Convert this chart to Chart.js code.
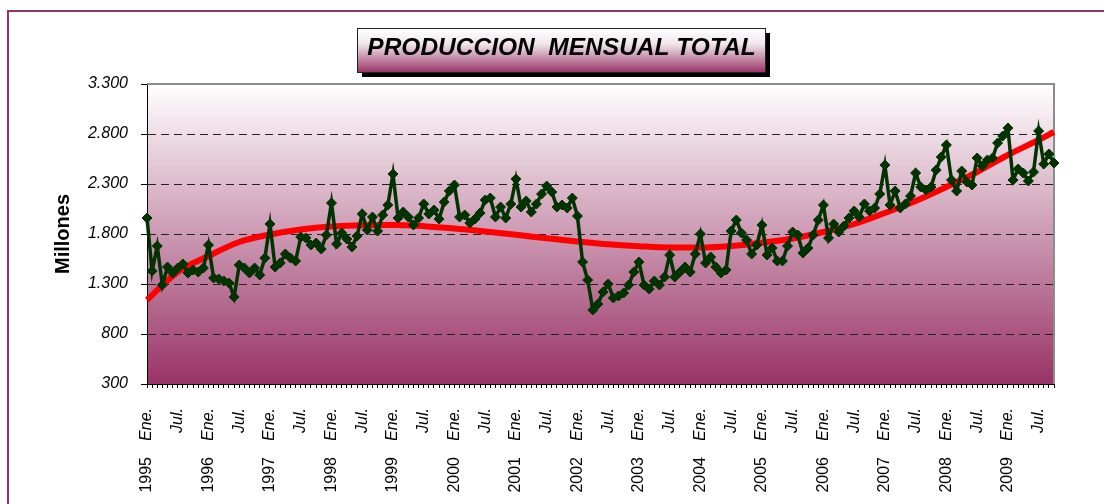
<!DOCTYPE html>
<html>
<head>
<meta charset="utf-8">
<script src="https://cdn.jsdelivr.net/npm/chart.js@4.4.1/dist/chart.umd.min.js"></script>
<style>
html,body{margin:0;padding:0;background:#fff;}
canvas{display:block;}
</style>
</head>
<body>
<canvas id="c" width="1104" height="504"></canvas>
<script>
// ---------------- DATA ----------------
const years = [1995,1996,1997,1998,1999,2000,2001,2002,2003,2004,2005,2006,2007,2008,2009];
const monthNames = ['Ene.','Feb.','Mar.','Abr.','May.','Jun.','Jul.','Ago.','Sep.','Oct.','Nov.','Dic.'];
const tickMonthLabels = ['Ene.','Jul.'];
const yTickValues = [300,800,1300,1800,2300,2800,3300];

// Monthly production
const prod1995 = [1960,1430,1680,1290,1470,1410,1460,1500,1410,1440,1420,1460];
const prod1996 = [1690,1360,1350,1330,1310,1170,1490,1460,1410,1460,1390,1560];
const prod1997 = [1900,1470,1510,1600,1560,1530,1770,1760,1690,1710,1650,1790];
const prod1998 = [2110,1700,1810,1750,1670,1780,2000,1840,1970,1830,1990,2090];
const prod1999 = [2400,1960,2020,1970,1890,1960,2100,2000,2040,1950,2120,2230];
const prod2000 = [2290,1970,1990,1910,1950,2010,2140,2160,1970,2070,1960,2100];
const prod2001 = [2350,2070,2130,2020,2100,2200,2280,2220,2070,2090,2060,2160];
const prod2002 = [1980,1520,1340,1040,1100,1220,1300,1160,1180,1210,1290,1420];
const prod2003 = [1520,1290,1250,1330,1290,1370,1590,1370,1420,1470,1420,1600];
const prod2004 = [1800,1510,1570,1470,1410,1440,1830,1940,1810,1740,1600,1690];
const prod2005 = [1890,1590,1660,1530,1530,1680,1820,1790,1610,1660,1790,1940];
const prod2006 = [2090,1760,1900,1820,1880,1960,2030,1970,2100,2030,2060,2200];
const prod2007 = [2490,2090,2230,2060,2100,2180,2410,2270,2240,2270,2440,2570];
const prod2008 = [2690,2340,2230,2430,2320,2290,2560,2480,2540,2560,2710,2780];
const prod2009 = [2860,2340,2450,2410,2330,2420,2830,2500,2600,2510];

// Trend line read at each Ene./Jul. and at the last month
const trendSemiannual = [1140,1420,1580,1720,1795,1845,1875,1888,1890,1878,1855,1825,1792,1757,1725,1697,1678,1665,1665,1680,1712,1755,1820,1900,2010,2130,2270,2420,2590,2740];
const trendLast = 2820;

// ---------------- BUILD ----------------
const production = [].concat(prod1995,prod1996,prod1997,prod1998,prod1999,prod2000,prod2001,prod2002,prod2003,prod2004,prod2005,prod2006,prod2007,prod2008,prod2009);
const categories = production.map((v,i) => monthNames[i%12] + ' ' + years[Math.floor(i/12)]);
const trend = production.map((v,i) => (i%6===0 ? trendSemiannual[i/6] : null));
trend[trend.length-1] = trendLast;

function fmt(v){
  if (v >= 1000) return Math.floor(v/1000) + '.' + String(v%1000).padStart(3,'0');
  return String(v);
}

const FONT = "'Liberation Sans', Arial, Helvetica, sans-serif";

const decor = {
  id: 'decor',
  afterLayout(chart){
    if (chart.titleBlock) chart.titleBlock.left = 69;
  },
  beforeDraw(chart){
    const ctx = chart.ctx;
    const a = chart.chartArea;
    ctx.save();
    ctx.fillStyle = '#ffffff';
    ctx.fillRect(0,0,chart.width,chart.height);
    // outer frame
    ctx.strokeStyle = '#993366';
    ctx.lineWidth = 2;
    ctx.strokeRect(8, 11, 1200, 600);
    // title box
    ctx.font = 'italic bold 24.5px ' + FONT;
    const tw = ctx.measureText(chart.options.plugins.title.text).width;
    const cx = (chart.titleBlock.left + chart.titleBlock.right)/2;
    const bx = Math.round(cx - tw/2 - 10) + 0.5, by = 28.5, bw = Math.round(tw + 20), bh = 44;
    ctx.fillStyle = '#000';
    ctx.fillRect(bx + 4.5, by + 4.5, bw, bh);
    const tg = ctx.createLinearGradient(0, by, 0, by + bh);
    tg.addColorStop(0, '#ffffff');
    tg.addColorStop(0.35, '#f0e6eb');
    tg.addColorStop(1, '#993366');
    ctx.fillStyle = tg;
    ctx.fillRect(bx, by, bw, bh);
    ctx.strokeStyle = '#222';
    ctx.lineWidth = 1;
    ctx.strokeRect(bx, by, bw, bh);
    // plot area gradient
    const g = ctx.createLinearGradient(0, a.top, 0, a.bottom);
    g.addColorStop(0, '#ffffff');
    g.addColorStop(1, '#993366');
    ctx.fillStyle = g;
    ctx.fillRect(a.left, a.top, a.right - a.left, a.bottom - a.top);
    ctx.restore();
  },
  beforeDatasetsDraw(chart){
    const ctx = chart.ctx;
    const a = chart.chartArea;
    ctx.save();
    ctx.strokeStyle = '#8c8c8c';
    ctx.lineWidth = 2;
    ctx.beginPath();
    ctx.moveTo(a.left, a.top);
    ctx.lineTo(a.right, a.top);
    ctx.lineTo(a.right, a.bottom);
    ctx.stroke();
    ctx.restore();
  }
};

new Chart(document.getElementById('c'), {
  type: 'line',
  data: {
    labels: categories,
    datasets: [
      {
        label: 'Producción mensual',
        data: production,
        borderColor: '#003300',
        backgroundColor: '#003300',
        borderWidth: 3.5,
        pointStyle: 'rectRot',
        pointRadius: 5,
        pointBorderWidth: 1,
        pointBackgroundColor: '#003300',
        pointBorderColor: '#003300',
        tension: 0,
        order: 1
      },
      {
        label: 'Tendencia',
        data: trend,
        borderColor: '#ff0000',
        borderWidth: 6,
        pointRadius: 0,
        spanGaps: true,
        cubicInterpolationMode: 'monotone',
        fill: false,
        order: 2
      }
    ]
  },
  options: {
    responsive: false,
    animation: false,
    devicePixelRatio: 1,
    layout: { padding: { left: 0, right: 50, top: 0, bottom: 0 } },
    plugins: {
      legend: { display: false },
      tooltip: { enabled: false },
      title: {
        display: true,
        text: 'PRODUCCION  MENSUAL TOTAL',
        color: '#000',
        font: { family: FONT, size: 24.5, weight: 'bold', style: 'italic', lineHeight: 1.2 },
        padding: { top: 34, bottom: 20.6 }
      }
    },
    scales: {
      y: {
        min: 300,
        max: 3300,
        afterBuildTicks(s){ s.ticks = yTickValues.map(v => ({value: v})); },
        afterFit(s){ s.width = 147; },
        ticks: {
          color: '#000',
          padding: 13,
          font: { family: FONT, size: 16, style: 'italic' },
          callback: v => fmt(v)
        },
        grid: {
          drawTicks: true,
          tickLength: 6,
          tickColor: '#000',
          tickBorderDash: [],
          tickWidth: 1,
          color: ctx => (ctx.tick && (ctx.tick.value === 300 || ctx.tick.value === 3300)) ? 'rgba(0,0,0,0)' : '#222',
          lineWidth: 1
        },
        border: { display: true, color: '#000', width: 1, dash: [8,5] },
        title: {
          display: true,
          text: 'Millones',
          color: '#000',
          font: { family: FONT, size: 20, weight: 'bold', lineHeight: 1.2 },
          padding: { top: 51, bottom: 0 }
        }
      },
      x: {
        type: 'category',
        position: 'bottom',
        offset: false,
        weight: 0,
        afterFit(s){ s.height = 56; },
        ticks: {
          autoSkip: false,
          minRotation: 90,
          maxRotation: 90,
          padding: 20,
          color: '#000',
          font: { family: FONT, size: 16, style: 'italic' },
          callback: (v, i) => {
            const m = monthNames[i % 12];
            return tickMonthLabels.includes(m) ? m : '';
          }
        },
        grid: {
          display: true,
          drawOnChartArea: false,
          drawTicks: true,
          tickLength: 4,
          color: '#000',
          lineWidth: 1,
          offset: false
        },
        border: { display: true, color: '#000', width: 1 }
      },
      xYear: {
        type: 'category',
        position: 'bottom',
        offset: false,
        weight: 1,
        afterFit(s){ s.height = 64; },
        ticks: {
          autoSkip: false,
          minRotation: 90,
          maxRotation: 90,
          padding: 17,
          color: '#000',
          font: { family: FONT, size: 16 },
          callback: (v, i) => (i % 12 === 0 ? String(years[i/12]) : '')
        },
        grid: { display: false, drawTicks: false, drawOnChartArea: false },
        border: { display: false }
      }
    }
  },
  plugins: [decor]
});
</script>
</body>
</html>
